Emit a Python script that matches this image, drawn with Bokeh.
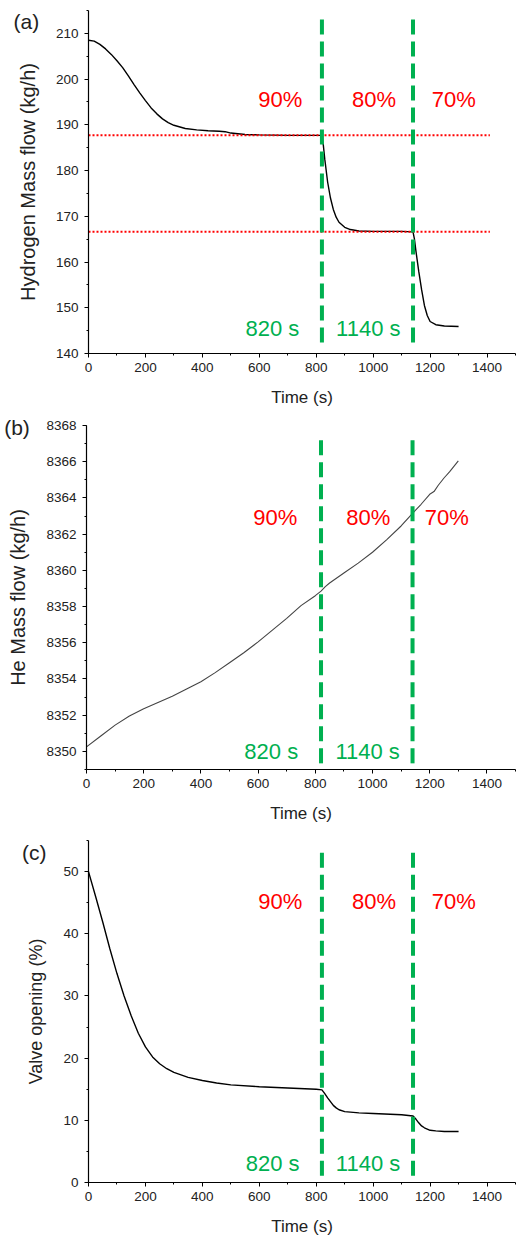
from bokeh.plotting import figure
from bokeh.layouts import column
from bokeh.models import Range1d, SingleIntervalTicker, Label
from bokeh.core.properties import value
from bokeh.embed import file_html
from bokeh.resources import INLINE

# ---------------- data ----------------
time_a = [0, 20, 40, 60, 80, 100, 120, 140, 160, 180, 200, 220, 240, 260, 280, 300, 340, 380,
          420, 460, 480, 500, 550, 600, 700, 820, 825, 830, 840, 850, 860, 870, 880, 900, 920,
          950, 1000, 1100, 1140, 1145, 1150, 1160, 1170, 1180, 1190, 1200, 1220, 1250, 1300]
h2_flow = [208.5, 208.3, 207.6, 206.6, 205.4, 204.0, 202.5, 200.7, 198.8, 197.0, 195.3, 193.7,
           192.4, 191.3, 190.5, 189.9, 189.2, 188.9, 188.7, 188.6, 188.5, 188.2, 187.9, 187.8,
           187.7, 187.7, 185.5, 182.5, 177.5, 174.0, 171.5, 169.8, 168.7, 167.6, 167.1, 166.8,
           166.7, 166.7, 166.6, 165.0, 162.5, 158.0, 154.0, 150.5, 148.3, 147.0, 146.3, 146.0,
           145.9]

time_b = [0, 50, 100, 150, 200, 250, 300, 350, 400, 450, 500, 550, 600, 650, 700, 750, 800,
          820, 835, 850, 900, 950, 1000, 1050, 1100, 1140, 1170, 1200, 1215, 1230, 1250, 1270,
          1300]
he_flow = [8350.25, 8350.85, 8351.45, 8351.95, 8352.35, 8352.7, 8353.05, 8353.45, 8353.85,
           8354.35, 8354.9, 8355.45, 8356.05, 8356.7, 8357.35, 8358.05, 8358.6, 8358.85,
           8359.1, 8359.3, 8359.85, 8360.4, 8361.0, 8361.7, 8362.45, 8363.15, 8363.65,
           8364.2, 8364.35, 8364.7, 8365.1, 8365.45, 8366.05]

time_c = [0, 25, 50, 75, 100, 125, 150, 175, 200, 225, 250, 275, 300, 350, 400, 450, 500, 600,
          700, 800, 820, 830, 840, 850, 860, 870, 880, 900, 950, 1000, 1100, 1140, 1150, 1160,
          1170, 1180, 1190, 1200, 1220, 1250, 1300]
valve_open = [50.0, 46.0, 41.9, 37.6, 33.6, 30.0, 26.8, 24.0, 21.8, 20.2, 19.1, 18.3, 17.7,
              16.9, 16.4, 16.0, 15.7, 15.4, 15.2, 15.0, 14.9, 14.3, 13.6, 13.0, 12.4, 12.0,
              11.7, 11.4, 11.2, 11.1, 10.9, 10.7, 10.2, 9.6, 9.1, 8.8, 8.6, 8.4, 8.3, 8.2, 8.2]

step_times = [820, 1140]
step_labels = ["820 s", "1140 s"]
load_labels = ["90%", "80%", "70%"]
h2_ref_levels = [187.7, 166.6]

RED = "#FF0000"
GREEN = "#00B050"
FONT = "Liberation Sans"
W = 519


def make_panel(H, axis_px, x_bounds, y_bounds, ytick, ylabel, ylabel_size):
    """axis_px = (x0px, x1px, ytop_px, ybot_px): where the axis bounds sit on the canvas."""
    x0px, x1px, ytop_px, ybot_px = axis_px
    xv0, xv1 = x_bounds
    yv_bot, yv_top = y_bounds
    sx = (x1px - x0px) / (xv1 - xv0)
    sy = (ybot_px - ytop_px) / (yv_top - yv_bot)
    xr = Range1d(xv0 - x0px / sx, xv1 + (W - x1px) / sx)
    yr = Range1d(yv_bot - (H - ybot_px) / sy, yv_top + ytop_px / sy)
    p = figure(width=W, height=H, output_backend="svg", toolbar_location=None,
               x_range=xr, y_range=yr, min_border=0)
    p.outline_line_color = None
    p.xgrid.visible = False
    p.ygrid.visible = False
    p.background_fill_color = "white"
    p.border_fill_color = "white"
    p.xaxis.ticker = SingleIntervalTicker(interval=200, num_minor_ticks=2)
    p.yaxis.ticker = SingleIntervalTicker(interval=ytick, num_minor_ticks=2)
    p.xaxis.fixed_location = yv_bot
    p.yaxis.fixed_location = xv0
    p.xaxis.bounds = (xv0, xv1)
    p.yaxis.bounds = (yv_bot, yv_top)
    for ax in (p.xaxis[0], p.yaxis[0]):
        ax.axis_line_color = "black"
        ax.axis_line_width = 1.2
        ax.major_tick_line_color = "black"
        ax.minor_tick_line_color = "black"
        ax.major_tick_in = 0
        ax.major_tick_out = 4
        ax.minor_tick_in = 0
        ax.minor_tick_out = 2
        ax.major_label_text_font = FONT
        ax.major_label_text_font_size = "13.5px"
        ax.major_label_text_color = "#222222"
        ax.axis_label_text_font = FONT
        ax.axis_label_text_font_style = "normal"
        ax.axis_label_text_color = "#222222"
    p.xaxis.axis_label = "Time (s)"
    p.xaxis.axis_label_text_font_size = "17px"
    p.xaxis.major_label_standoff = 5
    p.xaxis.axis_label_standoff = 13
    p.yaxis.axis_label = ylabel
    p.yaxis.axis_label_text_font_size = ylabel_size
    p.yaxis.major_label_standoff = 6
    p.yaxis.axis_label_standoff = 14
    return p


def add_annotations(p, tag, tag_xy, load_x, load_y, step_x, step_y, vy0, vy1):
    p.text(x=load_x, y=[load_y] * len(load_x), text=load_labels, text_color=RED,
           text_font=value(FONT), text_font_size="22px",
           text_align="center", text_baseline="middle")
    p.text(x=step_x, y=[step_y] * len(step_x), text=step_labels, text_color=GREEN,
           text_font=value(FONT), text_font_size="22px",
           text_align="center", text_baseline="middle")
    p.segment(x0=step_times, x1=step_times, y0=[vy0] * 2, y1=[vy1] * 2,
              line_color=GREEN, line_width=4, line_dash="15 7")
    p.add_layout(Label(x=tag_xy[0], y=tag_xy[1], text=tag, text_font=FONT,
                       text_font_size="21px", text_color="#222222",
                       text_align="center", text_baseline="middle"))


# ---- panel (a)  canvas rows 0..410
pa = make_panel(410, (88, 515, 10, 353), (0, 1500), (140, 215), 10,
                "Hydrogen Mass flow (kg/h)", "20px")
pa.line(time_a, h2_flow, line_color="black", line_width=1.4)
pa.segment(x0=[0, 0], x1=[1410, 1410], y0=h2_ref_levels, y1=h2_ref_levels,
           line_color=RED, line_width=2, line_dash="2 2")
add_annotations(pa, "(a)", (-218, 212.5), [674, 1003, 1283], 195.5, [646, 983], 145.4,
                142.4, 214.3)

# ---- panel (b)  canvas rows 410..822
pb = make_panel(412, (86, 515, 15, 359), (0, 1500), (8349, 8368), 2,
                "He Mass flow (kg/h)", "20px")
pb.line(time_b, he_flow, line_color="#444444", line_width=1.1)
add_annotations(pb, "(b)", (-243, 8367.9), [660, 985, 1260], 8362.9, [646, 983], 8350.0,
                8349.34, 8367.56)

# ---- panel (c)  canvas rows 822..1237
pc = make_panel(415, (88, 515, 18, 360), (0, 1500), (0, 55), 10,
                "Valve opening (%)", "18px")
pc.line(time_c, valve_open, line_color="black", line_width=1.4)
add_annotations(pc, "(c)", (-191, 53.1), [674, 1003, 1283], 45.2, [647, 982], 3.1,
                1.1, 53.7)

layout = column(pa, pb, pc, spacing=0)
open("out.html", "w").write(file_html(layout, INLINE))
